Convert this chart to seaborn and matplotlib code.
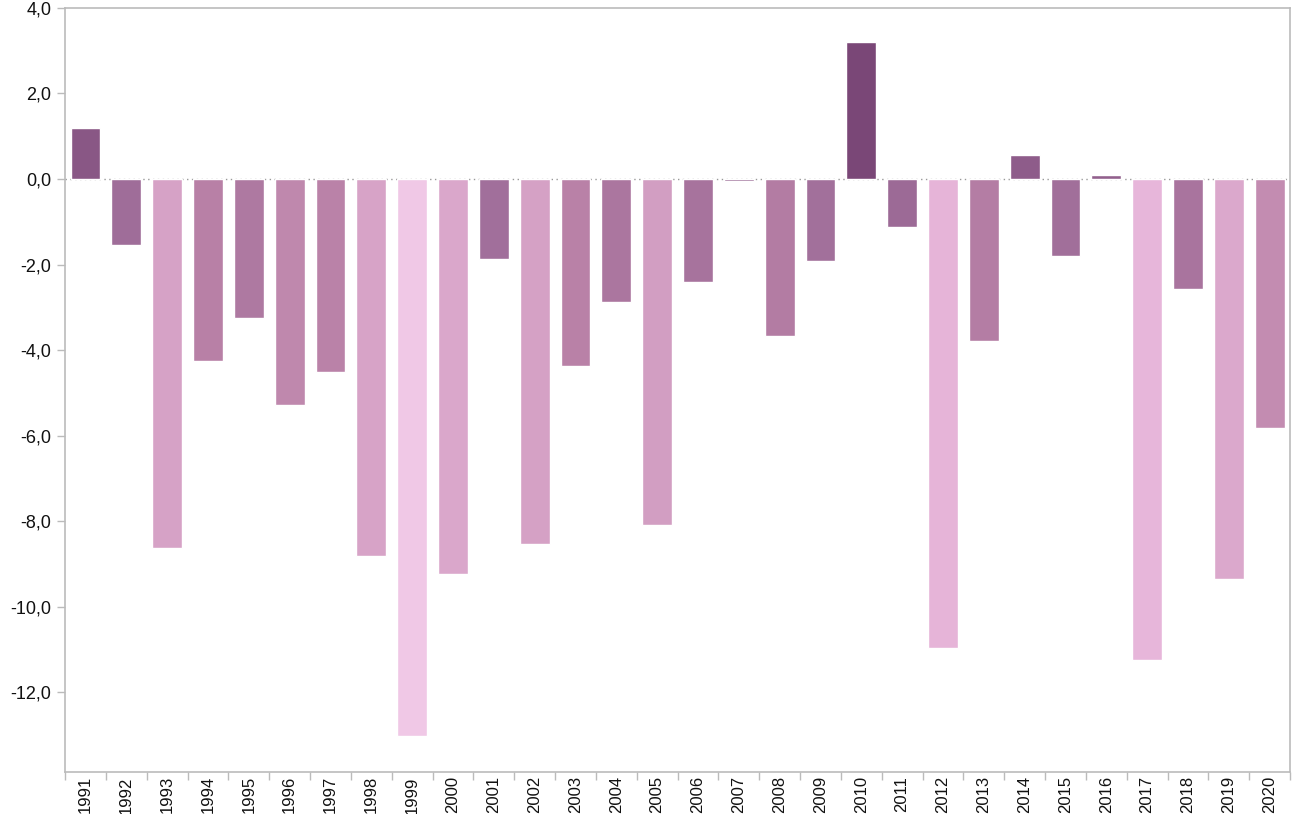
import matplotlib
matplotlib.use("Agg")
import matplotlib.pyplot as plt
import seaborn as sns
import pandas as pd
import numpy as np
from matplotlib.colors import LinearSegmentedColormap, Normalize
from matplotlib.ticker import FixedLocator, FuncFormatter

years = [str(y) for y in range(1991, 2021)]
values = [1.2, -1.54, -8.63, -4.26, -3.25, -5.29, -4.51, -8.82, -13.03, -9.24,
          -1.87, -8.54, -4.37, -2.88, -8.09, -2.41, -0.04, -3.67, -1.92, 3.2,
          -1.12, -10.97, -3.79, 0.56, -1.80, 0.09, -11.25, -2.57, -9.36, -5.82]
y_ticks = [-12, -10, -8, -6, -4, -2, 0, 2, 4]

sns.set_theme(style="white")
plt.rcParams['font.family'] = ['Liberation Sans', 'DejaVu Sans']

cmap = LinearSegmentedColormap.from_list(
    "mauve",
    [(0.0, "#F0C8E6"), (0.125, "#E6B4D8"), (0.27, "#D6A2C6"),
     (0.45, "#C28BB0"), (0.54, "#B880A6"), (0.70, "#A06E9A"),
     (1.0, "#7A4777")])
norm = Normalize(vmin=-13.03, vmax=3.2)
colors = [cmap(norm(v)) for v in values]

df = pd.DataFrame({"year": years, "value": values})

fig = plt.figure(figsize=(12.93, 8.14), dpi=100)
ax = fig.add_axes([0.0503, 0.0516, 0.9474, 0.9386])

sns.barplot(data=df, x="year", y="value", hue="year", palette=colors,
            legend=False, width=0.73, saturation=1, ax=ax)

ax.set_xlim(-0.5, len(years) - 0.5)
ax.set_ylim(-13.87, 4.0)
ax.axhline(0, color="#999999", linestyle=(0, (1, 2.5)), linewidth=1, zorder=0.5)

ax.yaxis.set_major_locator(FixedLocator(y_ticks))
ax.yaxis.set_major_formatter(FuncFormatter(lambda v, p: f"{v:.1f}".replace(".", ",")))
ax.set_xlabel("")
ax.set_ylabel("")

for s in ax.spines.values():
    s.set_color("#BBBBBB")
    s.set_linewidth(1.2)

ax.tick_params(axis="y", which="major", length=6, width=1, color="#BBBBBB",
               labelsize=13, labelcolor="#111111", left=True, pad=4)
ax.tick_params(axis="x", which="major", length=0, labelsize=12,
               labelcolor="#111111", labelrotation=90, pad=3)
ax.xaxis.set_minor_locator(FixedLocator(np.arange(-0.5, len(years), 1.0)))
ax.tick_params(axis="x", which="minor", length=6, width=1, color="#BBBBBB", bottom=True)

fig.savefig("out.png", dpi=100)
